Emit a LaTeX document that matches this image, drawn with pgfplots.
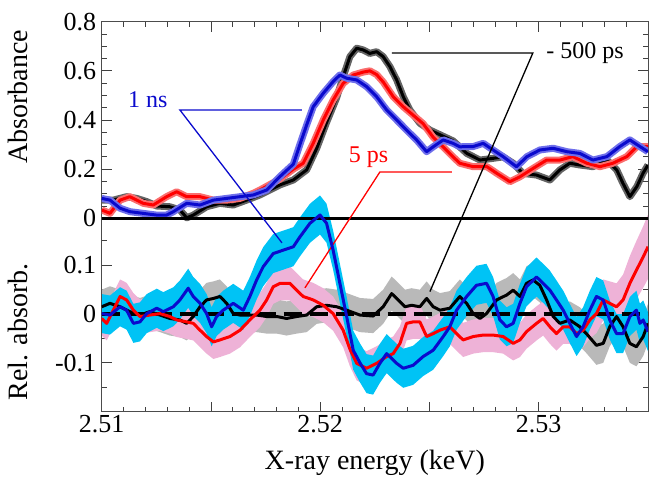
\documentclass[border=0pt]{standalone}
\usepackage{fontspec}
\setmainfont{Liberation Serif}
\usepackage{pgfplots}
\usepackage{pgfplotstable}
\pgfplotsset{compat=1.18}
\usepgfplotslibrary{fillbetween}

\definecolor{cyanband}{RGB}{0,195,245}
\definecolor{pinkband}{RGB}{238,178,215}
\definecolor{grayband}{RGB}{185,185,185}
\definecolor{dblue}{RGB}{10,10,205}
\definecolor{fzblack}{RGB}{100,100,100}
\definecolor{fzred}{RGB}{250,110,110}
\definecolor{fzblue}{RGB}{110,110,235}

% upper panel: absorbance
\pgfplotstableread{
E A
2.51000 0.074
2.51053 0.074
2.51114 0.088
2.51160 0.081
2.51206 0.068
2.51252 0.050
2.51312 0.047
2.51358 0.034
2.51389 0.002
2.51419 0.013
2.51480 0.047
2.51541 0.061
2.51602 0.054
2.51663 0.074
2.51724 0.095
2.51816 0.136
2.51877 0.156
2.51938 0.197
2.51984 0.285
2.52029 0.390
2.52075 0.490
2.52105 0.576
2.52136 0.658
2.52167 0.692
2.52197 0.685
2.52227 0.671
2.52258 0.678
2.52288 0.658
2.52319 0.617
2.52350 0.563
2.52380 0.495
2.52410 0.441
2.52456 0.387
2.52502 0.359
2.52548 0.340
2.52608 0.315
2.52671 0.264
2.52731 0.237
2.52791 0.244
2.52837 0.250
2.52883 0.224
2.52927 0.183
2.52990 0.176
2.53051 0.156
2.53097 0.197
2.53142 0.224
2.53188 0.217
2.53248 0.210
2.53312 0.237
2.53357 0.197
2.53385 0.143
2.53417 0.088
2.53449 0.129
2.53477 0.183
2.53500 0.217
}\upblack

\pgfplotstableread{
E A
2.51000 0.034
2.51038 0.020
2.51084 0.074
2.51129 0.088
2.51190 0.061
2.51236 0.054
2.51297 0.088
2.51343 0.108
2.51389 0.088
2.51450 0.088
2.51511 0.074
2.51572 0.074
2.51633 0.081
2.51694 0.102
2.51724 0.115
2.51816 0.160
2.51877 0.200
2.51922 0.224
2.51968 0.305
2.52014 0.400
2.52059 0.481
2.52105 0.549
2.52151 0.583
2.52197 0.595
2.52227 0.600
2.52258 0.585
2.52288 0.555
2.52334 0.495
2.52380 0.454
2.52425 0.420
2.52471 0.385
2.52517 0.330
2.52563 0.290
2.52608 0.250
2.52639 0.224
2.52700 0.210
2.52763 0.210
2.52808 0.183
2.52868 0.149
2.52914 0.169
2.52974 0.203
2.53036 0.237
2.53097 0.237
2.53156 0.251
2.53220 0.224
2.53280 0.210
2.53339 0.224
2.53403 0.251
2.53449 0.292
2.53500 0.292
}\upred

\pgfplotstableread{
E A
2.51000 0.081
2.51038 0.074
2.51084 0.041
2.51129 0.027
2.51190 0.020
2.51252 0.013
2.51297 0.013
2.51328 0.027
2.51389 0.061
2.51450 0.054
2.51511 0.074
2.51572 0.081
2.51633 0.088
2.51694 0.095
2.51755 0.115
2.51816 0.170
2.51877 0.220
2.51907 0.300
2.51938 0.380
2.51968 0.454
2.52014 0.509
2.52059 0.556
2.52090 0.583
2.52121 0.570
2.52167 0.563
2.52212 0.536
2.52258 0.495
2.52304 0.441
2.52350 0.400
2.52395 0.359
2.52441 0.319
2.52487 0.271
2.52517 0.291
2.52563 0.319
2.52608 0.305
2.52639 0.291
2.52700 0.292
2.52746 0.305
2.52791 0.278
2.52837 0.251
2.52898 0.210
2.52946 0.251
2.53005 0.278
2.53066 0.285
2.53129 0.271
2.53188 0.264
2.53248 0.237
2.53312 0.251
2.53371 0.292
2.53417 0.319
2.53463 0.292
2.53500 0.271
}\upblue

% lower panel: relative absorbance, with band half-width e
\pgfplotstableread{
E R e
2.51000 0.015 0.035
2.51038 0.022 0.035
2.51084 0.015 0.035
2.51129 0.005 0.035
2.51175 -0.002 0.035
2.51221 0.005 0.035
2.51267 -0.002 0.035
2.51312 -0.009 0.035
2.51358 -0.012 0.035
2.51389 -0.019 0.035
2.51419 -0.005 0.035
2.51450 0.015 0.035
2.51480 0.029 0.035
2.51511 0.032 0.035
2.51541 0.036 0.035
2.51572 0.022 0.035
2.51602 0.001 0.035
2.51633 -0.002 0.035
2.51709 -0.002 0.035
2.51755 -0.005 0.035
2.51801 -0.005 0.035
2.51846 -0.009 0.035
2.51892 -0.005 0.035
2.51938 -0.002 0.035
2.51984 0.015 0.035
2.52029 0.018 0.035
2.52075 0.015 0.035
2.52121 0.008 0.035
2.52182 -0.002 0.035
2.52242 -0.004 0.035
2.52288 0.015 0.035
2.52327 0.042 0.035
2.52357 0.029 0.035
2.52388 0.015 0.035
2.52418 0.018 0.035
2.52456 0.015 0.035
2.52487 0.032 0.035
2.52517 0.015 0.035
2.52548 0.008 0.035
2.52593 0.012 0.035
2.52639 0.036 0.035
2.52670 0.022 0.035
2.52700 0.001 0.035
2.52731 -0.009 0.035
2.52761 0.001 0.035
2.52807 0.029 0.035
2.52853 0.039 0.035
2.52883 0.049 0.035
2.52914 0.036 0.035
2.52944 0.063 0.035
2.52974 0.070 0.035
2.53005 0.059 0.035
2.53036 0.029 0.035
2.53066 -0.005 0.035
2.53097 -0.019 0.035
2.53142 -0.012 0.038
2.53188 -0.026 0.040
2.53218 -0.040 0.040
2.53264 -0.064 0.040
2.53295 -0.060 0.040
2.53325 -0.026 0.040
2.53356 -0.005 0.040
2.53386 -0.026 0.040
2.53417 -0.060 0.040
2.53447 -0.067 0.040
2.53478 -0.046 0.040
2.53500 -0.019 0.040
}\lowblack

\pgfplotstableread{
E R e
2.51000 -0.009 0.035
2.51023 -0.019 0.035
2.51053 0.008 0.035
2.51084 0.036 0.035
2.51114 0.029 0.035
2.51145 0.008 0.035
2.51175 -0.005 0.035
2.51221 -0.002 0.035
2.51267 0.001 0.035
2.51312 -0.005 0.035
2.51343 -0.012 0.035
2.51389 -0.016 0.035
2.51419 -0.019 0.035
2.51450 -0.033 0.035
2.51480 -0.046 0.035
2.51511 -0.057 0.035
2.51541 -0.053 0.035
2.51587 -0.046 0.035
2.51633 -0.033 0.035
2.51678 -0.012 0.035
2.51724 0.008 0.035
2.51755 0.029 0.035
2.51785 0.056 0.035
2.51816 0.063 0.035
2.51861 0.063 0.035
2.51892 0.049 0.035
2.51922 0.036 0.035
2.51968 0.029 0.035
2.52014 0.018 0.035
2.52059 0.001 0.035
2.52105 -0.033 0.035
2.52136 -0.072 0.035
2.52167 -0.101 0.035
2.52212 -0.111 0.035
2.52258 -0.101 0.035
2.52304 -0.087 0.035
2.52334 -0.081 0.035
2.52365 -0.060 0.035
2.52395 -0.019 0.035
2.52425 -0.016 0.035
2.52456 -0.016 0.035
2.52487 -0.046 0.035
2.52517 -0.040 0.035
2.52548 -0.033 0.035
2.52593 -0.026 0.035
2.52624 -0.040 0.035
2.52654 -0.053 0.035
2.52700 -0.046 0.035
2.52746 -0.043 0.035
2.52791 -0.043 0.035
2.52837 -0.046 0.035
2.52883 -0.060 0.035
2.52914 -0.053 0.035
2.52944 -0.036 0.035
2.52990 -0.019 0.035
2.53020 -0.009 0.035
2.53051 -0.026 0.035
2.53081 -0.040 0.035
2.53112 -0.026 0.035
2.53142 -0.026 0.035
2.53173 -0.040 0.035
2.53203 -0.033 0.035
2.53234 -0.012 0.038
2.53264 0.001 0.040
2.53295 0.029 0.042
2.53325 0.022 0.045
2.53356 0.015 0.048
2.53386 0.029 0.052
2.53417 0.063 0.056
2.53447 0.090 0.060
2.53478 0.117 0.063
2.53500 0.138 0.066
}\lowred

\pgfplotstableread{
E R e
2.51000 0.001 0.040
2.51038 -0.002 0.040
2.51084 0.015 0.040
2.51114 0.008 0.040
2.51145 -0.019 0.040
2.51175 -0.016 0.040
2.51206 0.001 0.040
2.51252 0.012 0.040
2.51282 0.005 0.040
2.51328 0.015 0.040
2.51358 0.029 0.040
2.51396 0.053 0.040
2.51419 0.036 0.040
2.51450 0.022 0.040
2.51480 0.001 0.040
2.51503 -0.026 0.040
2.51526 -0.005 0.040
2.51556 0.008 0.040
2.51602 0.022 0.040
2.51648 0.008 0.040
2.51678 0.036 0.040
2.51709 0.070 0.040
2.51739 0.097 0.040
2.51785 0.124 0.040
2.51831 0.131 0.040
2.51877 0.138 0.040
2.51907 0.158 0.040
2.51953 0.186 0.040
2.51999 0.203 0.040
2.52029 0.186 0.040
2.52059 0.131 0.040
2.52090 0.063 0.040
2.52121 -0.005 0.040
2.52151 -0.074 0.040
2.52182 -0.100 0.040
2.52212 -0.122 0.040
2.52242 -0.125 0.040
2.52273 -0.101 0.040
2.52304 -0.081 0.040
2.52350 -0.101 0.040
2.52380 -0.111 0.040
2.52425 -0.105 0.040
2.52471 -0.087 0.040
2.52517 -0.074 0.040
2.52563 -0.046 0.040
2.52593 -0.026 0.040
2.52624 0.008 0.040
2.52670 0.036 0.040
2.52715 0.059 0.040
2.52761 0.063 0.040
2.52791 0.036 0.040
2.52822 -0.012 0.040
2.52853 -0.026 0.040
2.52883 -0.019 0.040
2.52914 0.022 0.040
2.52944 0.056 0.040
2.52990 0.076 0.040
2.53020 0.063 0.040
2.53051 0.049 0.040
2.53081 0.029 0.040
2.53112 0.008 0.040
2.53142 -0.019 0.040
2.53173 -0.046 0.040
2.53203 -0.026 0.040
2.53234 0.008 0.040
2.53264 0.036 0.040
2.53295 0.029 0.040
2.53325 -0.012 0.040
2.53356 -0.040 0.040
2.53386 -0.040 0.040
2.53417 -0.005 0.040
2.53447 0.008 0.040
2.53463 -0.019 0.040
2.53478 -0.012 0.040
2.53500 -0.036 0.040
}\lowblue

\begin{document}
\begin{tikzpicture}
\pgfplotsset{
  base/.style={
    scale only axis, width=546.3pt, height=390pt,
    xmin=2.51, xmax=2.535,
    tick align=inside, major tick length=10pt, minor tick length=5pt,
    every tick/.style={black!75, line width=0.8pt},
    axis line style={black!70, line width=1pt},
    ticklabel style={font=\fontsize{26}{26}\selectfont},
    yticklabel style={xshift=-2pt},
  },
  fuzz/.style={line width=7pt, line join=round, forget plot},
  curve/.style={line width=3pt, line join=round},
}
% upper panel, absorbance
\begin{axis}[base,
  ymin=-0.787, ymax=0.8,
  xtick={2.51,2.515,2.52,2.525,2.53,2.535},
  xticklabels={2.51,,2.52,,2.53,},
  minor x tick num=4,
  ytick={0,0.2,0.4,0.6,0.8},
  yticklabels={0,0.2,0.4,0.6,0.8},
  minor ytick={0.05,0.1,0.15,0.25,0.3,0.35,0.45,0.5,0.55,0.65,0.7,0.75},
]
\addplot[fuzz, fzblack] table[x=E, y=A] {\upblack};
\addplot[curve, black] table[x=E, y=A] {\upblack};
\addplot[fuzz, fzred] table[x=E, y=A] {\upred};
\addplot[curve, red] table[x=E, y=A] {\upred};
\addplot[fuzz, fzblue] table[x=E, y=A] {\upblue};
\addplot[curve, dblue] table[x=E, y=A] {\upblue};
\addplot[black, line width=3pt] coordinates {(2.51,0) (2.535,0)};

\draw[black, line width=1.3pt] (axis cs:2.52328,0.6726) -- (axis cs:2.52973,0.6726) -- (axis cs:2.52502,-0.2983);
\node[anchor=base west, font=\fontsize{24}{24}\selectfont] at (axis cs:2.53019,0.651) {- 500 ps};
\draw[dblue, line width=1.3pt] (axis cs:2.51916,0.4407) -- (axis cs:2.51358,0.4407) -- (axis cs:2.51825,-0.1000);
\node[anchor=base east, dblue, font=\fontsize{24}{24}\selectfont] at (axis cs:2.51317,0.449) {1 ns};
\draw[red, line width=1.3pt] (axis cs:2.52602,0.1884) -- (axis cs:2.52273,0.1884) -- (axis cs:2.51930,-0.2832);
\node[anchor=base east, red, font=\fontsize{24}{24}\selectfont] at (axis cs:2.52327,0.226) {5 ps};
\end{axis}

% lower panel, relative absorbance
\begin{axis}[base,
  ymin=-0.2, ymax=0.599,
  hide x axis,
  ytick={-0.1,0,0.1},
  yticklabels={-0.1,0,0.1},
  minor ytick={-0.15,-0.05,0.05,0.15},
]
\addplot[draw=none, name path=gu, forget plot] table[x=E, y expr=\thisrow{R}+\thisrow{e}] {\lowblack};
\addplot[draw=none, name path=gl, forget plot] table[x=E, y expr=\thisrow{R}-\thisrow{e}] {\lowblack};
\addplot[grayband, draw=none, forget plot] fill between[of=gu and gl];
\addplot[draw=none, name path=pu, forget plot] table[x=E, y expr=\thisrow{R}+\thisrow{e}] {\lowred};
\addplot[draw=none, name path=pl, forget plot] table[x=E, y expr=\thisrow{R}-\thisrow{e}] {\lowred};
\addplot[pinkband, draw=none, forget plot] fill between[of=pu and pl];
\addplot[draw=none, name path=cu, forget plot] table[x=E, y expr=\thisrow{R}+\thisrow{e}] {\lowblue};
\addplot[draw=none, name path=cl, forget plot] table[x=E, y expr=\thisrow{R}-\thisrow{e}] {\lowblue};
\addplot[cyanband, draw=none, forget plot] fill between[of=cu and cl];

\addplot[black, line width=3.5pt, dash pattern=on 18pt off 8pt] coordinates {(2.51,0) (2.535,0)};
\addplot[curve, black] table[x=E, y=R] {\lowblack};
\addplot[curve, red] table[x=E, y=R] {\lowred};
\addplot[curve, dblue] table[x=E, y=R] {\lowblue};
\end{axis}

\node[rotate=90, font=\fontsize{28}{28}\selectfont] at (-84pt,314.7pt) {Absorbance};
\node[rotate=90, font=\fontsize{28}{28}\selectfont] at (-84pt,79.7pt) {Rel. absorb.};
\node[font=\fontsize{28}{28}\selectfont] at (273.15pt,-51pt) {X-ray energy (keV)};

\pgfresetboundingbox
\path (-101.7pt,-73.3pt) rectangle (556.3pt,411.7pt);
\end{tikzpicture}
\end{document}
